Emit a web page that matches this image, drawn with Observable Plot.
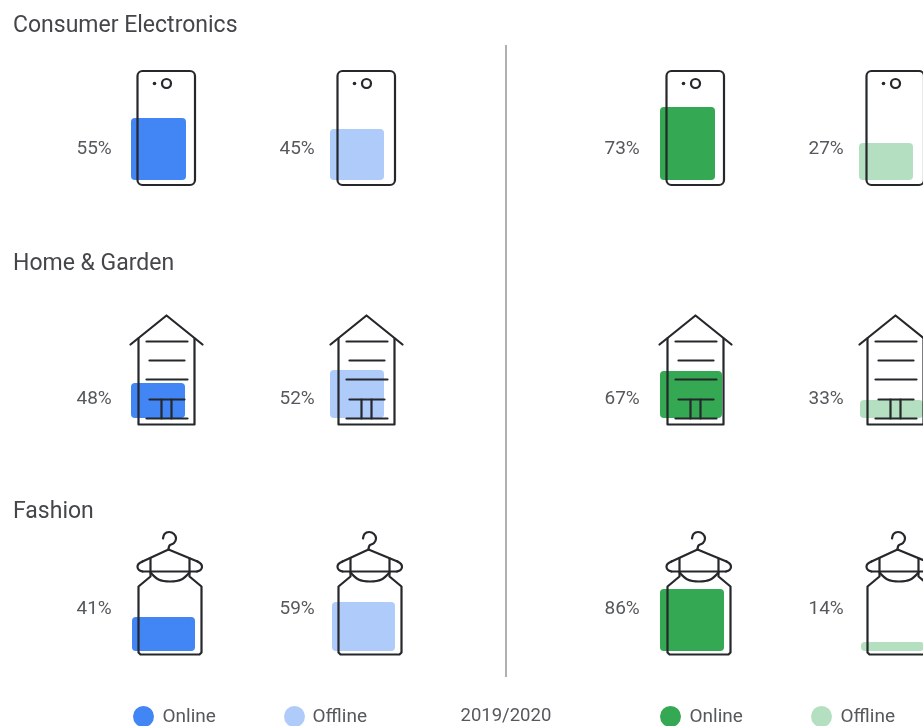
<!DOCTYPE html>
<html>
<head>
<meta charset="utf-8">
<script src="https://cdn.jsdelivr.net/npm/d3@7"></script>
<script src="https://cdn.jsdelivr.net/npm/@observablehq/plot@0.6"></script>
<style>
html,body{margin:0;padding:0;background:#fff;overflow:hidden}
svg{display:block;filter:blur(0.45px)}
</style>
</head>
<body>
<div id="chart"></div>
<script>
// ---------- data ----------
const categories = ["Consumer Electronics", "Home & Garden", "Fashion"];
const channels = ["Online", "Offline", "Online", "Offline"];
const periodLabel = "2019/2020";
const shareOnlineLeft = [55, 48, 41];
const shareOfflineLeft = [45, 52, 59];
const shareOnlineRight = [73, 67, 86];
const shareOfflineRight = [27, 33, 14];
// how tall each pictogram's fill is drawn
const fillOnlineLeft = [62, 35, 34];
const fillOfflineLeft = [51, 48, 49];
const fillOnlineRight = [73, 47, 62];
const fillOfflineRight = [37, 18, 9];
const colours = ["#4285f4", "#aecbfa", "#34a853", "#b5dfc1"];

// ---------- layout ----------
const W = 923, H = 726, ink = "#25272a", textGrey = "#55585c", titleGrey = "#44474a";
const columnShift = [0, 200, 529, 729];
const labelX = [76, 279, 604, 808];
const titleY = [24, 262, 510];
const labelY = [147.5, 397.5, 607.5];
const fillBase = [180, 418, 651];
const fillLeft = [[131, 330, 660, 859], [131, 330, 660, 860], [132, 332, 660, 861]];
const fillRight = [[186, 384, 715, 913], [185, 384, 722, 923], [195, 395, 724, 924]];
const legendDotX = [143, 294, 670, 821];
const legendTextX = [162, 312, 689, 840];
const legendY = 716;

const shares = [shareOnlineLeft, shareOfflineLeft, shareOnlineRight, shareOfflineRight];
const fills = [fillOnlineLeft, fillOfflineLeft, fillOnlineRight, fillOfflineRight];

const cells = categories.flatMap((category, row) => shares.map((s, col) => ({
  category, row, col,
  share: s[row],
  x1: fillLeft[row][col],
  x2: fillRight[row][col],
  y1: fillBase[row] - fills[col][row],
  y2: fillBase[row],
  fill: colours[col],
  labelX: labelX[col],
  labelY: labelY[row]
})));

// ---------- pictogram outlines (drawn for the first column, shifted for the others) ----------
const houseStrokes = [
  {curve: "linear", pts: [[130, 344], [166, 315], [202, 344]]},
  {curve: "linear", pts: [[138, 338], [138, 424], [194, 424], [194, 338]]},
  {curve: "linear", pts: [[146, 341], [187, 341]]},
  {curve: "linear", pts: [[149, 360], [184, 360]]},
  {curve: "linear", pts: [[146, 379], [187, 379]]},
  {curve: "linear", pts: [[149, 399], [184, 399]]},
  {curve: "linear", pts: [[146, 418], [187, 418]]},
  {curve: "linear", pts: [[161, 399], [161, 418]]},
  {curve: "linear", pts: [[171, 399], [171, 418]]}
];
const hangerStrokes = [
  {curve: "catmull-rom", pts: [[162.5, 538], [164, 533.5], [168.5, 531.5], [173.5, 533.5], [175.5, 538], [173.5, 542.5], [169, 545], [168, 549]]},
  {curve: "linear", pts: [[168, 549], [142, 561]]},
  {curve: "linear", pts: [[168, 549], [197, 561]]},
  {curve: "catmull-rom", pts: [[142, 561], [138, 563.5], [137, 566.5], [138.5, 569.5], [142, 571]]},
  {curve: "catmull-rom", pts: [[197, 561], [200.5, 563.5], [201.5, 566.5], [200, 569.5], [196.5, 571]]},
  {curve: "linear", pts: [[142, 571], [196.5, 571]]},
  {curve: "catmull-rom", pts: [[150, 572], [158, 579], [169.5, 581], [181, 579], [189, 572]]},
  {curve: "linear", pts: [[150, 558], [150, 576], [138, 586], [138, 652], [140, 654], [199, 654], [201, 652], [201, 586], [189, 576], [189, 558]]}
];
const outlineRows = (strokes, curve) => strokes
  .filter(s => s.curve === curve)
  .flatMap((s, i) => columnShift.flatMap((dx, c) => s.pts.map(([x, y]) => ({x: x + dx, y, key: `${i}-${c}`}))));
const lineOpts = {x: "x", y: "y", z: "key", stroke: ink, strokeWidth: 2.2, strokeLinejoin: "round", strokeLinecap: "round"};

const phones = columnShift.map(dx => ({x1: 137.5 + dx, x2: 195 + dx, y1: 71, y2: 185, lens: 166 + dx, dot: 154 + dx}));

const legend = channels.map((channel, i) => ({channel, dotX: legendDotX[i], textX: legendTextX[i], fill: colours[i]}));

const chart = Plot.plot({
  width: W, height: H,
  margin: 0,
  x: {type: "linear", domain: [0, W], range: [0, W], axis: null},
  y: {type: "linear", domain: [0, H], range: [0, H], axis: null},
  style: {background: "#fff"},
  marks: [
    // divider
    Plot.ruleX([505.5], {y1: 45, y2: 677, stroke: "#b0b0b0", strokeWidth: 2}),
    // fills
    Plot.rect(cells, {x1: "x1", x2: "x2", y1: "y1", y2: "y2", fill: "fill", rx: 4}),
    // phone icons
    Plot.rect(phones, {x1: "x1", x2: "x2", y1: "y1", y2: "y2", fill: "none", stroke: ink, strokeWidth: 2.2, rx: 5}),
    Plot.dot(phones, {x: "lens", y: () => 83, r: 4.5, fill: "none", stroke: ink, strokeWidth: 2.2}),
    Plot.dot(phones, {x: "dot", y: () => 83, r: 1.8, fill: ink}),
    // house icons
    Plot.line(outlineRows(houseStrokes, "linear"), lineOpts),
    // hanger icons
    Plot.line(outlineRows(hangerStrokes, "linear"), lineOpts),
    Plot.line(outlineRows(hangerStrokes, "catmull-rom"), {...lineOpts, curve: "catmull-rom"}),
    // category titles
    Plot.text(categories, {x: () => 12.5, y: (d, i) => titleY[i], text: d => d, textAnchor: "start", fontFamily: "Roboto", fontSize: 23, fill: titleGrey}),
    // percentages
    Plot.text(cells, {x: "labelX", y: "labelY", text: d => `${d.share}%`, textAnchor: "start", fontFamily: "Roboto", fontSize: 19, fill: textGrey}),
    // legend
    Plot.dot(legend, {x: "dotX", y: () => legendY, r: 10.5, fill: "fill"}),
    Plot.text(legend, {x: "textX", y: () => 715, text: "channel", textAnchor: "start", fontFamily: "Roboto", fontSize: 19, fill: textGrey}),
    Plot.text([periodLabel], {x: () => 460, y: () => 715, text: d => d, textAnchor: "start", fontFamily: "Roboto", fontSize: 18.5, fill: textGrey})
  ]
});
document.getElementById("chart").appendChild(chart);
</script>
</body>
</html>
